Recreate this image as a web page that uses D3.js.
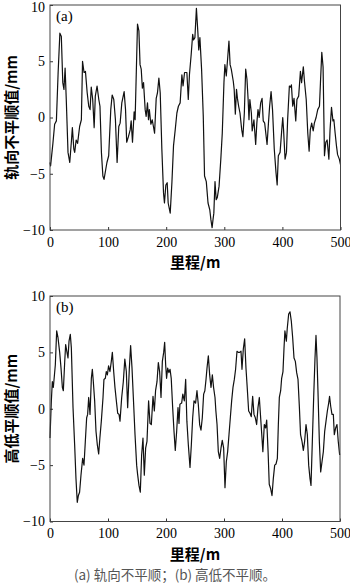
<!DOCTYPE html>
<html>
<head>
<meta charset="utf-8">
<script src="https://cdn.jsdelivr.net/npm/d3@7"></script>
<style>
  html, body { margin: 0; padding: 0; background: #fff; }
  svg { display: block; }
</style>
</head>
<body>
<svg id="fig" width="350" height="585"></svg>
<script>
// Track alignment irregularity (panel a), distance in m, value in mm
const alignDist = [0,1,5,8,11,14,17,19.5,22,24,26,28,31,34,37,38.5,41,42.5,45,47.5,51,54,56,58.6,61,64,66.7,69,71,73.5,76,78,81,84,86,88.5,91,93,96,98,101,104.6,107,109.8,112.6,115.5,118.4,120.7,123.6,127.6,130,132,135,138,139.7,142,144.8,146.5,150.6,153,155,157,159,161,163.8,165.5,167.8,169.5,171,173.6,176,178,180,182.8,185,187.4,189.7,192.5,195.4,197,199.4,201.7,203.4,206.9,209.8,212.6,215.5,218.4,221,224,227,229,231.6,235.6,238,240,243,245.6,247,249.4,252,254.6,256,258,260.9,263.8,266,269,272,275,277,279,280.5,282,284,286,288,291,294,296.5,299.4,301,303.4,306,308,310,312,315.5,317,319,321,322.6,324.7,327,330,332,334.5,336.8,339,341,342.5,344,346.6,348,351,354,356,358,360,362.6,365,367,369.5,373.6,376,378,380.5,383,386,389,391,393,396,398.9,400.6,402,404.6,407,409,412,414,415.5,417.8,420,423,425,428,431,433,436,438,441,443.7,446,448,450.4,453,455,458,460.8,463.8,465.5,467.8,470,472.4,474.7,477,480,482,484.5,487,488.6,490.8,493,495,498,500];
const alignVal = [-4.0,-4.3,-2.3,-0.6,-0.3,4.0,7.5,7.2,3.1,2.5,4.4,1.6,-3.1,-4.0,-2.0,-0.9,-2.8,-3.1,-2.0,-2.3,-0.8,-0.2,5.0,4.0,4.1,2.2,1.0,0.7,2.7,1.6,-0.9,1.9,2.8,1.6,1.0,-3.1,-5.2,-5.5,-4.6,-4.0,-3.4,0.7,2.0,1.6,-0.2,-4.0,-0.8,-0.5,1.3,2.3,0.7,-2.2,-1.7,-1.1,-0.3,-2.2,0.5,-0.2,8.3,7.7,4.7,4.3,2.6,3.1,0.7,0.1,1.3,-0.2,0.7,-0.6,-0.2,-0.8,-1.4,1.7,2.2,3.5,2.2,-2.8,-6.7,-7.6,-6.0,-5.8,-7.6,-8.5,-5.8,-2.5,-1.1,0.4,1.0,1.3,3.8,2.8,4.0,4.0,1.6,3.8,5.6,7.4,6.9,7.1,9.7,7.5,6.0,7.1,4.3,0.1,-5.2,-5.7,-7.6,-8.2,-9.1,-9.8,-9.1,-8.5,-5.7,-7.3,-7.1,-6.1,-3.7,-1.4,3.1,4.7,3.7,5.4,6.8,4.7,4.3,3.2,2.5,0.3,2.5,1.7,1.0,0.4,-1.1,-1.7,0.4,4.3,3.4,1.6,-0.2,1.6,0.4,-1.2,-0.2,-2.4,-0.5,0.7,0.0,1.3,1.7,-0.3,-0.5,-2.4,-0.5,1.0,2.3,0.7,-2.8,-4.9,-6.0,-3.4,-3.1,-1.1,0.0,-1.1,-3.7,-3.1,-0.2,2.8,2.7,2.9,1.0,1.7,-0.3,1.6,1.9,4.1,3.1,4.5,3.2,1.6,-1.4,-3.0,-1.1,-0.5,-1.2,-0.5,0.0,0.7,1.0,3.1,5.8,4.5,-3.4,-2.2,-2.0,-3.7,-1.1,0.9,-0.3,-0.2,-1.4,-2.5,-3.3,-3.7,-4.2];

// Vertical profile irregularity (panel b)
const profDist = [0,2.3,4,5.7,7.5,9.2,11.5,13.8,16.7,19,21.3,23,25.3,27,29.3,31,32.8,35,36.8,39.7,42.5,44.8,47,48.9,51,53.4,56.3,58.6,60.9,63.2,64.9,66.7,69,71.3,73,74.7,77,79.3,81.6,83.9,86,88.5,91.4,93,95.4,97,98.9,101,103.4,105.7,107.5,109.8,112,114.4,116.7,119,120.7,123.6,126.4,129,131.6,133.9,136.8,139,141.4,143.7,146.6,149.4,151,153.4,155.7,158,160.3,162.6,164.9,167.2,170,172.4,174.7,177.6,179.9,182,184.5,186.8,189,191.4,193.7,196,197.7,199.4,201,202.9,205,207,209,211.5,213.8,216,218.4,220.7,222.4,224,227,229,231.6,233.9,236,238.5,241.4,243.7,246,248.3,251,253.4,255.7,258,260.3,262.6,264.9,267,269,270.7,273,275.3,277.6,279.9,282,284.5,286,288,290.2,292.5,294.8,297,299.4,301.7,304,306.3,308.6,310.9,313.2,315.5,317.8,320,322.4,324.7,327,329.3,331,333.3,335.6,337.9,340,342.5,344.8,347,349.4,351.7,354,356.3,358.6,360.9,363.2,365.5,367,369.5,371.8,373.6,376,378,380.5,382.8,385,387.4,389.7,392,393.7,395.4,397.7,399.4,401.7,403.4,405,407.5,409,411.5,413.8,416,418.4,420.7,423,425.3,427.6,430,432,434.5,436.8,439,441.4,443.7,446,448.3,450,452.3,454.6,456.9,458.6,460.3,462,464.4,466.7,469,471.3,473.6,475.9,478.2,480.5,482,484,486.2,488.5,490.2,492.5,494.8,497,499.4];
const profVal = [-2.6,0.7,2.4,1.9,2.9,3.9,6.9,6.3,5.0,3.6,1.9,1.6,4.1,5.7,5.0,4.5,6.0,6.6,5.4,0.1,-3.2,-6.2,-8.3,-7.7,-7.4,-5.9,-4.4,-5.0,-2.9,-0.8,-0.5,1.0,-0.5,2.7,3.5,2.4,0.7,-2.0,-3.2,-4.0,-2.6,-1.1,1.0,2.6,2.7,3.3,3.0,3.8,3.3,4.2,5.0,3.3,1.9,0.7,-0.4,-0.5,-1.1,1.0,2.4,4.4,3.3,0.1,3.6,5.6,3.6,1.0,-2.3,-5.0,-5.8,-6.8,-7.4,-4.1,-2.6,-5.9,-3.5,-2.9,0.7,-1.3,-1.4,1.1,-0.2,1.6,2.4,4.1,3.3,1.0,4.2,5.0,5.9,3.9,2.7,3.6,3.2,3.5,2.7,0.1,-2.0,-3.7,-2.0,0.1,-1.3,0.4,0.5,1.3,0.7,2.6,-1.1,-3.2,-5.2,-3.2,-0.8,0.7,0.5,1.6,0.4,-1.4,-1.9,-0.8,1.3,1.6,2.6,3.6,4.7,3.0,1.9,3.0,1.9,1.0,-0.2,-1.4,-3.8,-4.4,-3.5,-2.8,-3.5,-7.0,-4.7,-3.8,-2.3,-0.8,0.7,1.9,2.6,3.5,5.1,5.0,5.0,5.1,3.5,5.3,6.2,3.6,1.9,-0.2,-0.4,-0.7,1.1,-0.5,-0.8,-1.4,0.1,1.0,-0.8,-2.6,-3.8,-1.4,-1.7,-1.0,-3.8,-6.7,-7.1,-7.7,-6.2,-5.0,-4.9,-4.4,-1.4,1.0,1.6,2.7,3.3,5.3,6.9,6.0,7.1,8.4,8.6,7.8,6.3,4.5,4.2,3.2,2.6,0.1,-2.3,-2.9,-3.7,-2.9,-1.4,-2.3,-5.0,-6.2,-6.8,-2.9,1.0,4.5,6.5,4.5,1.6,-2.9,-5.6,-4.7,-3.8,-2.0,-1.1,-0.2,0.5,1.1,0.2,-0.5,-0.5,-2.3,-1.7,-1.4,-2.9,-4.1];

const xTicks = [0, 100, 200, 300, 400, 500];
const yTicks = [-10, -5, 0, 5, 10];

const panels = [
  { tag: "(a)", yTitle: "轨向不平顺值/mm", dist: alignDist, val: alignVal,
    left: 50, right: 340.5, top: 5, bottom: 230, xTitleY: 268 },
  { tag: "(b)", yTitle: "高低平顺值/mm", dist: profDist, val: profVal,
    left: 50, right: 340, top: 296, bottom: 521.5, xTitleY: 560 }
];

const svg = d3.select("#fig");
svg.append("rect").attr("width", 350).attr("height", 585).attr("fill", "#fff");

const numFont = "'Liberation Serif', 'DejaVu Serif', serif";
const cjkFont = "'Noto Sans CJK SC', sans-serif";
const fmt = d => (d < 0 ? "\u2212" + Math.abs(d) : String(d));

panels.forEach(p => {
  const x = d3.scaleLinear().domain([0, 500]).range([p.left, p.right]);
  const y = d3.scaleLinear().domain([-10, 10]).range([p.bottom, p.top]);
  const g = svg.append("g");

  // axes with short inward ticks
  const xAxis = g.append("g")
    .attr("transform", `translate(0,${p.bottom})`)
    .call(d3.axisBottom(x).tickValues(xTicks).tickFormat(fmt)
      .tickSizeInner(-3).tickSizeOuter(0).tickPadding(7));
  const yAxis = g.append("g")
    .attr("transform", `translate(${p.left},0)`)
    .call(d3.axisLeft(y).tickValues(yTicks).tickFormat(fmt)
      .tickSizeInner(-3).tickSizeOuter(0).tickPadding(5));
  [xAxis, yAxis].forEach(a => {
    a.select(".domain").remove();
    a.selectAll(".tick line").attr("stroke", "#333").attr("stroke-width", 1);
    a.selectAll(".tick text").attr("fill", "#000")
      .style("font-family", numFont).style("font-size", "14px");
  });
  // keep the top "10" label inside the canvas
  yAxis.selectAll(".tick text").filter(d => y(d) < 8).attr("dy", "0.45em");

  // series line
  const pts = p.dist.map((d, i) => [d, p.val[i]]);
  g.append("path")
    .datum(pts)
    .attr("fill", "none")
    .attr("stroke", "#111")
    .attr("stroke-width", 1.2)
    .attr("stroke-linejoin", "round")
    .attr("d", d3.line().x(d => x(d[0])).y(d => y(d[1])));

  // frame
  g.append("rect")
    .attr("x", p.left).attr("y", p.top)
    .attr("width", p.right - p.left).attr("height", p.bottom - p.top)
    .attr("fill", "none").attr("stroke", "#444").attr("stroke-width", 1);

  // panel tag
  g.append("text")
    .attr("x", p.left + 6).attr("y", p.top + 16)
    .style("font-family", numFont).style("font-size", "15px")
    .text(p.tag);

  // axis titles
  g.append("text")
    .attr("transform", `translate(17,${(p.top + p.bottom) / 2}) rotate(-90)`)
    .attr("text-anchor", "middle")
    .style("font-family", cjkFont).style("font-size", "15px").style("font-weight", "bold")
    .text(p.yTitle);
  g.append("text")
    .attr("x", (p.left + p.right) / 2).attr("y", p.xTitleY)
    .attr("text-anchor", "middle")
    .style("font-family", cjkFont).style("font-size", "15px").style("font-weight", "bold")
    .text("里程/m");
});

svg.append("text")
  .attr("x", 175).attr("y", 580)
  .attr("text-anchor", "middle")
  .attr("fill", "#555")
  .style("font-family", cjkFont).style("font-size", "13.5px")
  .text("(a) 轨向不平顺；(b) 高低不平顺。");
</script>
</body>
</html>
